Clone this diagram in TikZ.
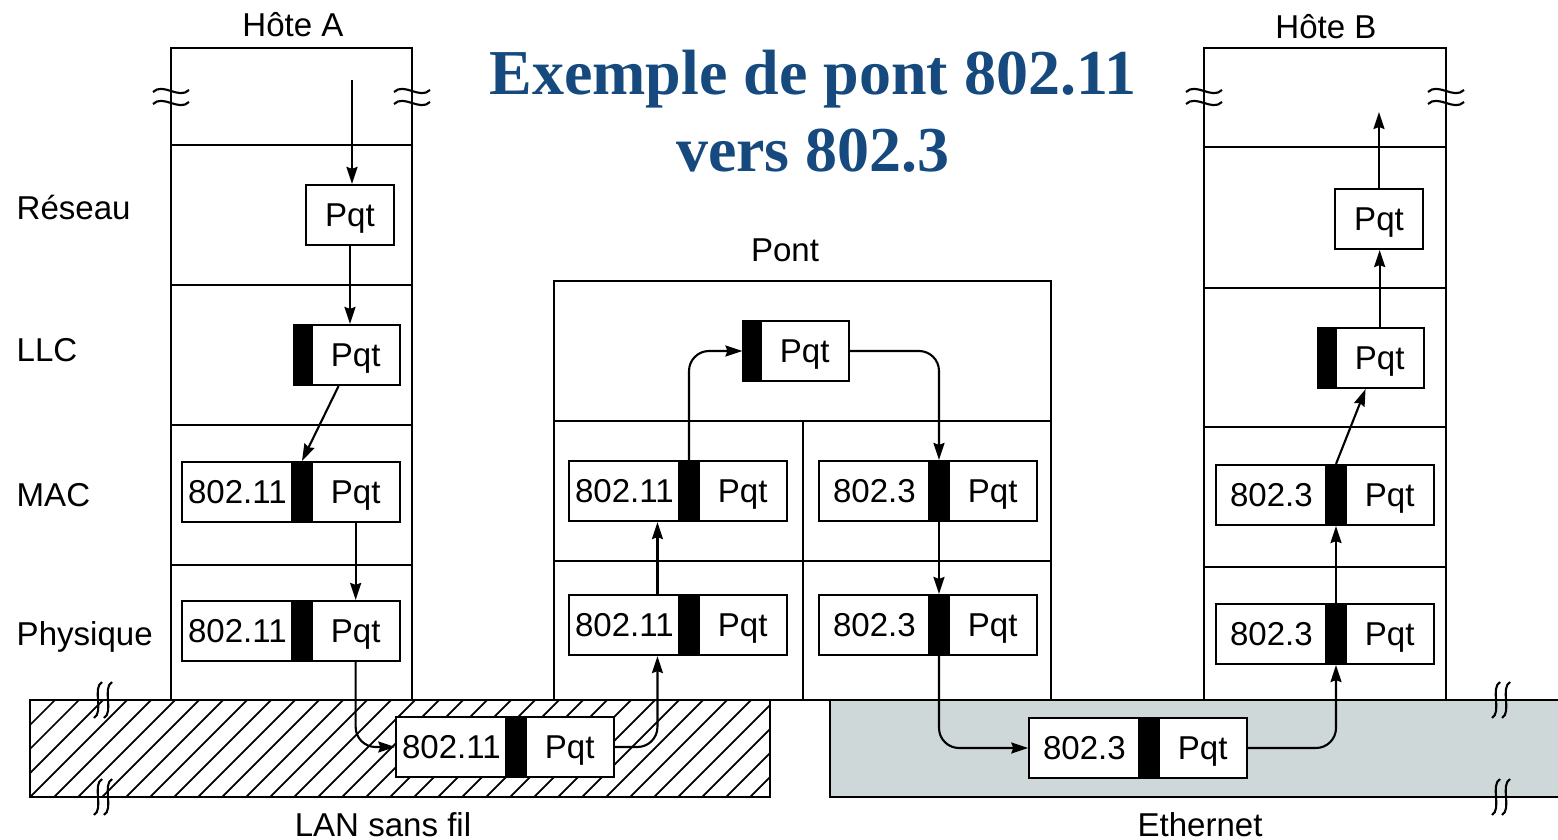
\documentclass[tikz,border=0pt]{standalone}
\usepackage{fontspec}
\setmainfont{Liberation Sans}
\newfontfamily\titlefont{Liberation Serif}
\usepackage{tikz}
\usetikzlibrary{arrows.meta,positioning,calc}
\usepackage{xcolor}
\definecolor{titleblue}{RGB}{22,74,126}
\definecolor{ethgray}{RGB}{207,216,216}

\begin{document}
\begin{tikzpicture}[x=0.01cm, y=-0.01cm, node distance=0pt, font=\fontsize{9.4}{11}\selectfont]
\tikzset{
  hdr/.style={rectangle, draw=black, fill=white, line width=0.6pt, minimum width=1.1cm, minimum height=0.6cm, inner sep=0pt, text height=6.8pt, text depth=0pt},
  bar/.style={rectangle, draw=black, fill=black, line width=0.6pt, minimum width=0.15cm, minimum height=0.6cm, inner sep=0pt},
  pay/.style={hdr, minimum width=0.88cm},
  lbl/.style={anchor=base west, inner sep=0pt},
  capt/.style={anchor=base, inner sep=0pt},
  arr/.style={-{Stealth[length=0.17cm, width=0.11cm, inset=0.02cm]}, line width=0.6pt},
  bnd/.style={arr, rounded corners=0.2cm},
  wall/.style={line width=0.7pt},
  brkh/.pic={
    \draw[line width=0.6pt] (-18,-3) .. controls (-8,-13) and (8,5) .. (18,-5);
    \draw[line width=0.6pt] (-18,9) .. controls (-8,-1) and (8,17) .. (18,7);
  },
  brkv/.pic={
    \draw[line width=0.6pt] (2,-18) .. controls (-8,-12) and (4,12) .. (-6,18);
    \draw[line width=0.6pt] (12,-18) .. controls (2,-12) and (14,12) .. (4,18);
  },
}
\useasboundingbox (0,0) rectangle (1558,840);

% title
\node[font=\titlefont\bfseries\fontsize{18.2}{22}\selectfont, text=titleblue, align=center] (ttl) at (813,111) {Exemple de pont 802.11\\vers 802.3};

% LAN sans fil
\begin{scope}
\clip (30,700) rectangle (770,797);
\foreach \i in {-90,-66,...,780}
  \draw[line width=0.5pt] (\i,797) -- ++(100,-100);
\end{scope}
\draw[wall] (30,700) rectangle (770,797);
\node[capt] (lan) at (383,836) {LAN sans fil};

% Ethernet
\fill[ethgray] (830,700) rectangle (1558,797);
\draw[wall] (1558,700) -- (830,700) -- (830,797) -- (1558,797);
\node[capt] (eth) at (1200,836) {Ethernet};

\pic at (100,700) {brkv};
\pic at (100,797) {brkv};
\pic at (1498,700) {brkv};
\pic at (1498,797) {brkv};

% hote A
\draw[wall] (171,700) -- (171,48) -- (412,48) -- (412,700);
\draw[wall] (171,145) -- (412,145) (171,285) -- (412,285) (171,425) -- (412,425) (171,565) -- (412,565);
\pic at (171,95) {brkh};
\pic at (412,95) {brkh};
\node[capt] (hA) at (293,37) {Hôte A};

\node[lbl] (lr) at (16,220) {Réseau};
\node[lbl] (ll) at (16,362) {LLC};
\node[lbl] (lm) at (16,506) {MAC};
\node[lbl] (lp) at (16,645) {Physique};

% pont
\draw[wall] (554,700) -- (554,281) -- (1051,281) -- (1051,700);
\draw[wall] (554,700) -- (1051,700);
\draw[wall] (554,421) -- (1051,421) (554,561) -- (1051,561) (803,421) -- (803,700);
\node[capt] (pont) at (785,262) {Pont};

% hote B
\draw[wall] (1204,700) -- (1204,48) -- (1446,48) -- (1446,700);
\draw[wall] (1204,147) -- (1446,147) (1204,288) -- (1446,288) (1204,427) -- (1446,427) (1204,567) -- (1446,567);
\pic at (1204,95) {brkh};
\pic at (1446,95) {brkh};
\node[capt] (hB) at (1326,39) {Hôte B};

% trames hote A
\node[pay] (aNp) at (350,215) {Pqt};
\node[bar] (aLb) at (302,355) {};
\node[pay, right=of aLb] (aLp) {Pqt};
\node[bar] (aMb) at (302,492) {};
\node[hdr, left=of aMb] (aMh) {802.11};
\node[pay, right=of aMb] (aMp) {Pqt};
\node[bar] (aPb) at (302,631) {};
\node[hdr, left=of aPb] (aPh) {802.11};
\node[pay, right=of aPb] (aPp) {Pqt};

% trame LAN
\node[bar] (wb) at (516,747) {};
\node[hdr, left=of wb] (wh) {802.11};
\node[pay, right=of wb] (wp) {Pqt};

% trames pont
\node[bar] (pTb) at (751,351) {};
\node[pay, right=of pTb] (pTp) {Pqt};
\node[bar] (pMlb) at (689,491) {};
\node[hdr, left=of pMlb] (pMlh) {802.11};
\node[pay, right=of pMlb] (pMlp) {Pqt};
\node[bar] (pPlb) at (689,625) {};
\node[hdr, left=of pPlb] (pPlh) {802.11};
\node[pay, right=of pPlb] (pPlp) {Pqt};
\node[bar] (pMrb) at (939,491) {};
\node[hdr, left=of pMrb] (pMrh) {802.3};
\node[pay, right=of pMrb] (pMrp) {Pqt};
\node[bar] (pPrb) at (939,625) {};
\node[hdr, left=of pPrb] (pPrh) {802.3};
\node[pay, right=of pPrb] (pPrp) {Pqt};

% trame Ethernet
\node[bar] (eb) at (1149,748) {};
\node[hdr, left=of eb] (eh) {802.3};
\node[pay, right=of eb] (ep) {Pqt};

% trames hote B
\node[pay] (bNp) at (1379,219) {Pqt};
\node[bar] (bLb) at (1326,358) {};
\node[pay, right=of bLb] (bLp) {Pqt};
\node[bar] (bMb) at (1336,495) {};
\node[hdr, left=of bMb] (bMh) {802.3};
\node[pay, right=of bMb] (bMp) {Pqt};
\node[bar] (bPb) at (1336,634) {};
\node[hdr, left=of bPb] (bPh) {802.3};
\node[pay, right=of bPb] (bPp) {Pqt};

% chemin du paquet
\coordinate (aTop) at (352,80);
\coordinate (bTop) at (1379,112);
\draw[arr] (aTop) -- (aTop |- aNp.north);
\draw[arr] (aNp.south) -- (aNp.south |- aLp.north);
\draw[arr] ($(aLp.south west)+(28,0)$) -- (aMb.north);
\draw[arr] (aMp.south) -- (aPp.north);
\draw[bnd] (aPp.south) |- (wh.west);
\draw[bnd] (wp.east) -| ($(pPlh.south east)+(-23,0)$);
\draw[arr] ($(pPlh.north east)+(-23,0)$) -- ($(pMlh.south east)+(-23,0)$);
\draw[bnd] (pMlb.north) |- (pTb.west);
\draw[bnd] (pTp.east) -| (pMrb.north);
\draw[arr] (pMrb.south) -- (pPrb.north);
\draw[bnd] (pPrb.south) |- (eh.west);
\draw[bnd] (ep.east) -| (bPb.south);
\draw[arr] (bPb.north) -- (bMb.south);
\draw[arr] (bMb.north) -- ($(bLp.south west)+(31,0)$);
\draw[arr] (bLp.north) -- (bLp.north |- bNp.south);
\draw[arr] (bNp.north) -- (bTop);
\end{tikzpicture}
\end{document}
